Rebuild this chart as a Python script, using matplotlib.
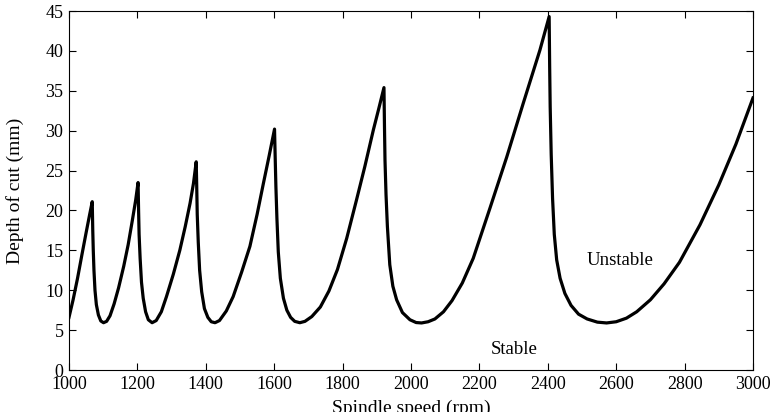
import numpy as np
import matplotlib
matplotlib.use('Agg')
import matplotlib.pyplot as plt

plt.rcParams['font.family'] = ['Liberation Serif', 'DejaVu Serif']
plt.rcParams.update({'font.size': 13})

# stability boundary, lobe by lobe (rpm, mm)
speed = [
    1000, 1012, 1025, 1038, 1050, 1060, 1068,
    1069.5, 1071, 1073, 1076, 1080, 1086, 1093, 1101,
    1110, 1120, 1132, 1145, 1160, 1173, 1185, 1195, 1202,
    1203.5, 1205, 1208, 1212, 1217, 1224, 1232, 1243,
    1255, 1270, 1285, 1305, 1324, 1340, 1354, 1364, 1372,
    1373.5, 1375, 1378, 1382, 1388, 1396, 1406, 1416, 1427,
    1440, 1460, 1480, 1505, 1529, 1550, 1568, 1585, 1601,
    1603, 1605, 1608, 1612, 1618, 1627, 1637, 1648, 1660, 1675,
    1690, 1710, 1735, 1760, 1785, 1812, 1840, 1865, 1890, 1906, 1921,
    1922.5, 1924, 1927, 1931, 1938, 1947, 1958, 1975, 1997, 2015, 2031,
    2050, 2070, 2095, 2120, 2150, 2182, 2231, 2280, 2328, 2377, 2404,
    2405.5, 2407, 2410, 2414, 2419, 2426, 2436, 2450, 2468, 2490, 2515, 2545, 2572,
    2600, 2630, 2660, 2700, 2740, 2785, 2845, 2900, 2950, 3000,
]
depth = [
    6.6, 8.8, 11.5, 14.5, 17.2, 19.4, 21.1,
    17.5, 15.0, 12.5, 10.0, 8.2, 6.9, 6.15, 5.93,
    6.1, 6.8, 8.3, 10.3, 13.0, 15.7, 18.7, 21.3, 23.5,
    20.0, 17.0, 14.0, 11.0, 9.0, 7.3, 6.3, 5.93,
    6.2, 7.3, 9.2, 12.0, 15.0, 18.0, 20.9, 23.4, 26.1,
    23.0, 19.5, 16.0, 12.5, 9.8, 7.7, 6.6, 6.05, 5.93,
    6.2, 7.4, 9.2, 12.3, 15.5, 19.5, 23.3, 26.8, 30.2,
    26.5, 23.0, 19.0, 14.8, 11.5, 9.0, 7.5, 6.6, 6.1, 5.93,
    6.1, 6.7, 7.9, 9.9, 12.6, 16.5, 21.2, 25.5, 30.1, 32.8, 35.4,
    30.5, 26.3, 22.0, 18.0, 13.2, 10.5, 8.8, 7.2, 6.3, 5.95, 5.9,
    6.05, 6.4, 7.3, 8.7, 10.9, 14.0, 20.3, 26.7, 33.4, 40.1, 44.3,
    38.0, 33.0, 27.0, 21.5, 17.0, 13.8, 11.5, 9.6, 8.1, 7.0, 6.4, 6.0, 5.9,
    6.05, 6.5, 7.3, 8.8, 10.8, 13.5, 18.2, 23.2, 28.3, 34.1,
]

fig = plt.figure(figsize=(7.7, 4.12), dpi=100)
ax = fig.add_axes([0.0896, 0.1019, 0.8883, 0.8714])
ax.plot(speed, depth, color='black', linewidth=2.3)

ax.text(2611, 13.7, 'Unstable', ha='center', va='center', fontsize=13.5)
ax.text(2301, 2.6, 'Stable', ha='center', va='center', fontsize=13.5)

ax.set_xlim(1000, 3000)
ax.set_ylim(0, 45)
ax.set_xticks(np.arange(1000, 3001, 200))
ax.set_yticks(np.arange(0, 46, 5))
ax.tick_params(direction='in', top=True, right=True, length=5, width=0.8, pad=4)
ax.set_xlabel('Spindle speed (rpm)', fontsize=14, labelpad=5)
ax.set_ylabel('Depth of cut (mm)', fontsize=14, labelpad=15)

plt.savefig('out.png', dpi=100)
